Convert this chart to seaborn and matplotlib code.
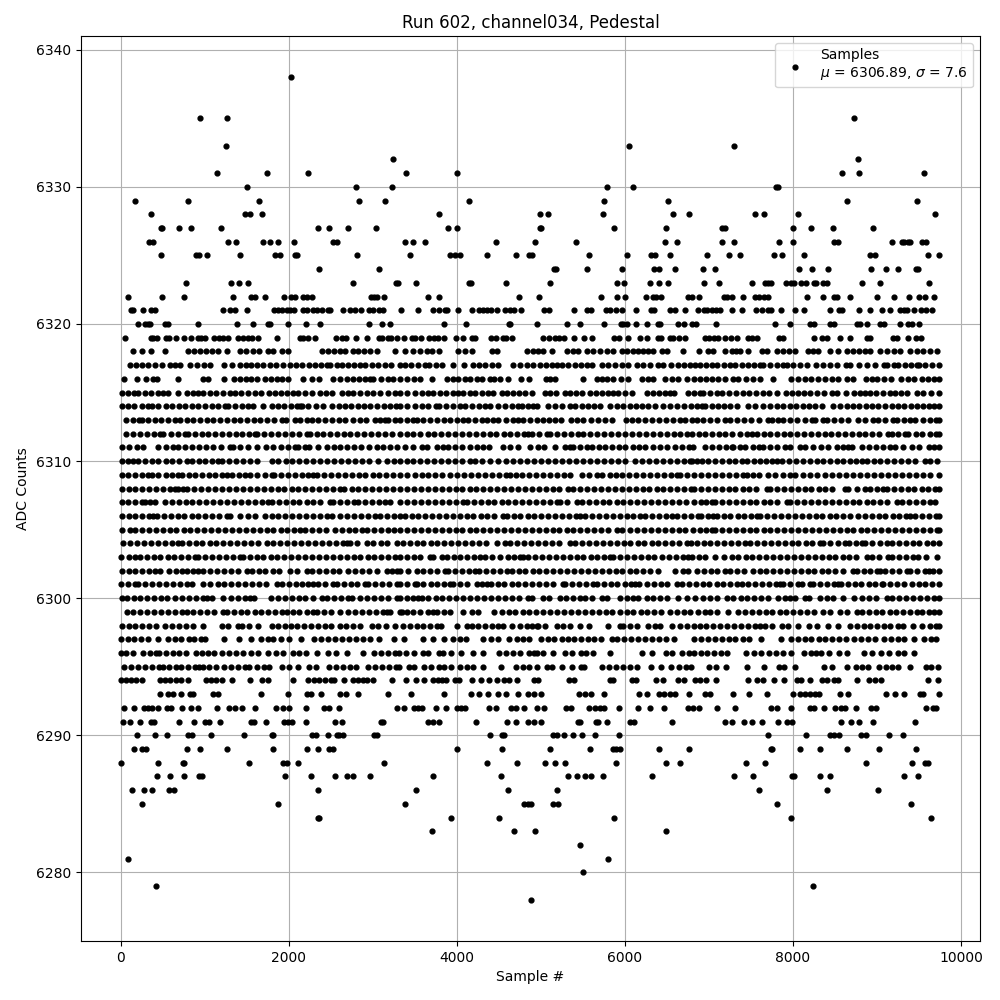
import pandas as pd
import matplotlib
matplotlib.use("Agg")
import matplotlib.pyplot as plt
import seaborn as sns

# sample numbers, one list per ADC level
s_6338 = [2020]
s_6335 = [937, 1258, 8727]
s_6333 = [1247, 6048, 7298]
s_6332 = [3235, 8775]
s_6331 = [1139, 1735, 2223, 3390, 3998, 8584, 8787, 9561]
s_6330 = [1497, 2795, 3224, 5786, 6095, 7798, 7822]
s_6329 = [163, 794, 1640, 2831, 3140, 4141, 5750, 6512, 8648, 9478]
s_6328 = [353, 1481, 1536, 1675, 3783, 4988, 5083, 5738, 6572, 6762, 7548, 7655, 8060, 9692]
s_6327 = [472, 488, 687, 830, 1187, 2342, 2473, 2700, 3033, 3890, 3998, 4988, 5003, 5869, 6488, 7155, 7190, 8000, 8214, 8477, 8954]
s_6326 = [330, 377, 1270, 1366, 1687, 1771, 1866, 2056, 2521, 2569, 3378, 3474, 3617, 4462, 4928, 5416, 6476, 6619, 7155, 7298, 7834, 8000, 8489, 8537, 9180, 9299, 9323, 9371, 9395, 9537, 9585]
s_6325 = [472, 889, 925, 1020, 1413, 1830, 1890, 2068, 2096, 2807, 3438, 3914, 3974, 4034, 4355, 4700, 4855, 4888, 5571, 6024, 6310, 6357, 6536, 6977, 7239, 7370, 7775, 7870, 8132, 8918, 8978, 9609, 9740]
s_6324 = [2354, 3069, 5154, 5178, 5547, 5968, 6345, 6405, 6595, 6929, 7072, 8072, 8227, 8418, 8930, 9108, 9251, 9466, 9482]
s_6323 = [770, 1306, 1401, 1509, 2759, 3271, 3295, 3509, 4141, 4165, 4581, 5107, 5905, 5988, 6298, 6405, 6512, 6941, 7120, 7513, 7667, 7703, 7739, 7917, 7977, 8013, 8096, 8155, 8251, 8275, 8358, 8406, 8823, 9037, 9621]
s_6322 = [79, 484, 746, 1330, 1544, 1592, 1711, 1937, 2021, 2068, 2164, 2211, 2279, 2973, 3009, 3045, 3128, 3652, 3783, 4736, 4976, 5714, 5905, 6000, 6250, 6333, 6369, 6429, 6750, 6798, 6881, 7179, 7215, 7274, 7405, 7548, 7596, 7655, 7703, 8168, 8358, 8489, 8525, 8680, 9005, 9204, 9383, 9502, 9573, 9681]
s_6321 = [115, 139, 258, 353, 401, 1211, 1294, 1354, 1497, 1818, 1866, 1914, 1973, 2009, 2056, 2164, 2211, 2283, 2330, 2390, 2461, 2485, 2640, 2723, 2783, 2854, 2950, 2997, 3069, 3116, 3331, 3533, 3712, 3783, 3855, 3879, 4010, 4176, 4260, 4307, 4355, 4403, 4474, 4570, 4629, 4677, 4760, 5035, 5095, 5393, 5547, 5595, 5774, 5821, 5893, 5964, 6131, 6310, 6345, 6536, 6595, 6715, 6869, 6941, 6977, 7037, 7084, 7132, 7274, 7393, 7560, 7632, 7703, 7739, 7858, 8025, 8132, 8442, 8549, 8584, 8787, 8918, 9061, 9156, 9275, 9323, 9358, 9442, 9525, 9585, 9657]
s_6320 = [198, 282, 318, 341, 520, 556, 913, 1378, 1568, 1747, 1771, 1985, 2199, 2366, 2950, 3105, 3200, 3843, 4105, 4617, 4633, 4952, 5309, 5464, 5750, 5952, 5976, 6024, 6131, 6262, 6393, 6417, 6631, 6703, 6798, 6846, 7084, 7787, 7965, 8203, 8251, 8442, 8489, 8763, 8799, 8882, 9037, 9085, 9275, 9370, 9418, 9502]
s_6319 = [44, 353, 377, 425, 532, 568, 651, 746, 830, 913, 949, 996, 1104, 1163, 1211, 1270, 1390, 1449, 1509, 1556, 1628, 1854, 2128, 2164, 2223, 2307, 2557, 2628, 2676, 2795, 2926, 3069, 3105, 3176, 3212, 3283, 3367, 3462, 3498, 3569, 3664, 3724, 3771, 3843, 3990, 4069, 4176, 4212, 4403, 4462, 4545, 4581, 4653, 5023, 5095, 5166, 5214, 5273, 5393, 5512, 5607, 5869, 5929, 6036, 6179, 6262, 6393, 6429, 6536, 6572, 6643, 6715, 6953, 7000, 7060, 7108, 7191, 7262, 7334, 7465, 7513, 7572, 7834, 7882, 8251, 8346, 8406, 8561, 8680, 8882, 8918, 9188, 9235, 9370, 9466, 9525]
s_6318 = [147, 246, 361, 524, 802, 871, 938, 1010, 1082, 1160, 1259, 1417, 1490, 1570, 1648, 1755, 1814, 1914, 1993, 2390, 2462, 2540, 2608, 2670, 2767, 2827, 2895, 2966, 3045, 3263, 3380, 3480, 3558, 3640, 3700, 3780, 4016, 4090, 4175, 4413, 4480, 4830, 4900, 4970, 5028, 5135, 5306, 5380, 5445, 5552, 5624, 5700, 5785, 5862, 5961, 6020, 6092, 6160, 6219, 6278, 6338, 6437, 6497, 6695, 6885, 6992, 7052, 7191, 7270, 7325, 7370, 7461, 7628, 7687, 7806, 7880, 7950, 8025, 8183, 8243, 8303, 8441, 8540, 8640, 8719, 8790, 8858, 8918, 9037, 9124, 9204, 9275, 9394, 9475, 9550, 9632, 9712]
s_6317 = [107, 175, 250, 320, 400, 484, 584, 645, 703, 822, 900, 985, 1060, 1227, 1320, 1417, 1485, 1544, 1620, 1690, 1775, 1850, 1930, 2013, 2085, 2160, 2240, 2310, 2380, 2450, 2489, 2577, 2628, 2700, 2775, 2847, 2906, 2986, 3060, 3140, 3220, 3323, 3380, 3455, 3540, 3619, 3670, 3750, 3825, 3956, 4083, 4186, 4260, 4335, 4420, 4492, 4671, 4750, 4830, 4909, 4988, 5065, 5130, 5187, 5246, 5326, 5400, 5475, 5544, 5604, 5723, 5802, 5880, 5965, 6040, 6140, 6219, 6300, 6398, 6457, 6545, 6636, 6703, 6770, 6834, 6893, 6965, 7032, 7092, 7175, 7250, 7310, 7389, 7465, 7540, 7608, 7648, 7730, 7805, 7886, 7925, 8000, 8085, 8164, 8271, 8362, 8441, 8521, 8628, 8680, 8780, 8878, 8977, 9085, 9124, 9204, 9255, 9330, 9400, 9474, 9494, 9570, 9650, 9732]
s_6316 = [40, 195, 298, 385, 433, 683, 980, 1040, 1231, 1350, 1417, 1485, 1550, 1616, 1715, 1790, 1854, 1914, 1993, 2172, 2271, 2362, 2529, 2608, 2688, 2760, 2835, 2900, 2966, 3005, 3100, 3184, 3244, 3323, 3400, 3490, 3560, 3706, 3877, 3956, 4016, 4090, 4155, 4234, 4294, 4393, 4444, 4512, 4611, 4758, 4861, 5056, 5110, 5167, 5497, 5663, 5723, 5782, 5860, 5950, 6040, 6199, 6270, 6338, 6477, 6557, 6636, 6742, 6820, 6890, 6965, 7032, 7105, 7190, 7290, 7350, 7440, 7528, 7608, 7759, 7973, 8064, 8140, 8220, 8300, 8385, 8460, 8540, 8640, 8719, 8866, 8938, 8997, 9080, 9170, 9280, 9374, 9442, 9533, 9610, 9680, 9738]
s_6315 = [8, 80, 150, 207, 286, 360, 440, 500, 564, 675, 790, 860, 921, 981, 1060, 1135, 1210, 1298, 1358, 1425, 1515, 1596, 1668, 1763, 1834, 1900, 1980, 2053, 2112, 2190, 2271, 2370, 2440, 2509, 2628, 2708, 2767, 2840, 2925, 3000, 3085, 3175, 3263, 3321, 3410, 3500, 3579, 3650, 3718, 3797, 3870, 3950, 4010, 4075, 4155, 4220, 4300, 4373, 4433, 4532, 4591, 4665, 4740, 4810, 4889, 5048, 5110, 5179, 5286, 5346, 5415, 5485, 5584, 5655, 5725, 5800, 5862, 5922, 6001, 6088, 6259, 6330, 6405, 6475, 6537, 6584, 6754, 6825, 6893, 6933, 7010, 7090, 7160, 7240, 7320, 7400, 7480, 7560, 7640, 7720, 7806, 7917, 7990, 8060, 8130, 8203, 8283, 8370, 8461, 8529, 8628, 8731, 8799, 8858, 8918, 8990, 9070, 9150, 9220, 9290, 9355, 9474, 9550, 9640, 9732]
s_6314 = [8, 85, 160, 250, 326, 365, 440, 530, 610, 690, 762, 842, 920, 1005, 1080, 1160, 1239, 1278, 1360, 1440, 1517, 1576, 1695, 1795, 1870, 1940, 2020, 2090, 2132, 2160, 2231, 2320, 2410, 2517, 2590, 2665, 2740, 2820, 2895, 2966, 3045, 3130, 3205, 3270, 3323, 3400, 3500, 3579, 3658, 3750, 3789, 3870, 3955, 4036, 4095, 4175, 4260, 4333, 4393, 4492, 4570, 4650, 4730, 4770, 4840, 4909, 4949, 5088, 5170, 5255, 5346, 5405, 5485, 5560, 5635, 5703, 5822, 5900, 5980, 6055, 6130, 6205, 6279, 6358, 6457, 6536, 6615, 6700, 6780, 6860, 6913, 6953, 7030, 7105, 7180, 7250, 7330, 7469, 7548, 7648, 7727, 7805, 7880, 7960, 8040, 8115, 8190, 8265, 8342, 8481, 8560, 8640, 8715, 8790, 8870, 8945, 9017, 9096, 9175, 9250, 9325, 9400, 9480, 9553, 9613, 9680, 9735]
s_6313 = [60, 147, 218, 246, 325, 400, 480, 565, 643, 703, 780, 860, 940, 1020, 1100, 1180, 1260, 1340, 1420, 1500, 1580, 1660, 1740, 1825, 1914, 1965, 2073, 2132, 2211, 2271, 2350, 2430, 2510, 2590, 2670, 2760, 2847, 2914, 3025, 3085, 3144, 3184, 3260, 3323, 3400, 3480, 3520, 3600, 3680, 3760, 3840, 3920, 4000, 4075, 4135, 4215, 4294, 4353, 4433, 4492, 4580, 4671, 4730, 4790, 4870, 4950, 5020, 5095, 5167, 5238, 5354, 5430, 5505, 5590, 5675, 5760, 5842, 6009, 6080, 6160, 6240, 6320, 6400, 6490, 6575, 6656, 6715, 6794, 6853, 6930, 7010, 7090, 7191, 7250, 7335, 7420, 7505, 7590, 7707, 7747, 7826, 7885, 7970, 8050, 8140, 8223, 8263, 8354, 8402, 8490, 8575, 8660, 8779, 8858, 8957, 9017, 9100, 9196, 9236, 9320, 9395, 9454, 9553, 9630, 9700, 9738]
s_6312 = [60, 147, 225, 310, 390, 465, 504, 590, 680, 762, 802, 880, 960, 1040, 1120, 1200, 1285, 1365, 1445, 1525, 1596, 1616, 1700, 1785, 1870, 1950, 2040, 2125, 2211, 2251, 2330, 2410, 2490, 2570, 2650, 2730, 2810, 2895, 2975, 3060, 3140, 3225, 3323, 3400, 3480, 3565, 3650, 3730, 3810, 3890, 3975, 4060, 4140, 4225, 4305, 4390, 4470, 4555, 4635, 4720, 4800, 4849, 4889, 4980, 5068, 5108, 5190, 5275, 5360, 5445, 5504, 5585, 5670, 5750, 5835, 5915, 6000, 6085, 6165, 6250, 6330, 6415, 6495, 6580, 6660, 6734, 6794, 6875, 6955, 7035, 7115, 7195, 7270, 7370, 7450, 7509, 7568, 7650, 7730, 7810, 7890, 7970, 8050, 8130, 8215, 8295, 8375, 8455, 8535, 8620, 8700, 8780, 8860, 8945, 9025, 9136, 9176, 9255, 9335, 9374, 9460, 9540, 9625, 9700, 9736]
s_6311 = [8, 90, 187, 266, 445, 530, 623, 683, 765, 850, 930, 1015, 1100, 1190, 1298, 1338, 1420, 1510, 1616, 1723, 1810, 1900, 1990, 2072, 2112, 2192, 2243, 2350, 2450, 2530, 2610, 2695, 2775, 2860, 2950, 3045, 3125, 3205, 3283, 3381, 3480, 3579, 3639, 3758, 3837, 3897, 3980, 4065, 4150, 4235, 4314, 4385, 4552, 4631, 4730, 4869, 4969, 5040, 5167, 5286, 5346, 5385, 5465, 5544, 5604, 5685, 5763, 5842, 5925, 6005, 6090, 6170, 6239, 6338, 6420, 6505, 6590, 6675, 6760, 6814, 6953, 7035, 7120, 7200, 7270, 7290, 7370, 7429, 7528, 7590, 7648, 7727, 7815, 7905, 7965, 8084, 8144, 8235, 8330, 8421, 8521, 8600, 8660, 8707, 8819, 8900, 8985, 9070, 9150, 9216, 9315, 9414, 9494, 9613, 9680, 9733]
s_6310 = [8, 80, 147, 207, 285, 365, 445, 530, 610, 695, 782, 842, 925, 1005, 1085, 1159, 1199, 1280, 1365, 1450, 1535, 1616, 1795, 1875, 1960, 2040, 2125, 2205, 2290, 2370, 2455, 2535, 2620, 2700, 2785, 2865, 2950, 3065, 3164, 3245, 3323, 3400, 3480, 3559, 3640, 3725, 3810, 3890, 3975, 4060, 4155, 4214, 4300, 4390, 4492, 4583, 4665, 4750, 4830, 4915, 5000, 5080, 5165, 5250, 5330, 5415, 5500, 5580, 5665, 5750, 5830, 5915, 6000, 6120, 6199, 6280, 6365, 6450, 6530, 6615, 6700, 6774, 6794, 6853, 6920, 6992, 7072, 7155, 7235, 7310, 7390, 7449, 7530, 7610, 7680, 7747, 7806, 7866, 7950, 8035, 8115, 8200, 8285, 8362, 8441, 8521, 8600, 8680, 8755, 8819, 8878, 8960, 9040, 9120, 9200, 9285, 9365, 9450, 9573, 9632, 9712]
s_6309 = [8, 87, 167, 250, 326, 365, 445, 530, 610, 683, 723, 805, 885, 965, 1045, 1125, 1205, 1259, 1318, 1400, 1477, 1537, 1620, 1710, 1795, 1822, 1905, 1985, 2070, 2150, 2230, 2291, 2330, 2415, 2500, 2580, 2665, 2745, 2830, 2910, 2995, 3075, 3160, 3240, 3323, 3410, 3495, 3580, 3658, 3738, 3820, 3917, 3996, 4080, 4165, 4250, 4330, 4415, 4500, 4580, 4631, 4703, 4770, 4855, 4940, 5020, 5105, 5190, 5270, 5346, 5485, 5575, 5663, 5723, 5822, 5894, 5961, 6045, 6130, 6210, 6295, 6380, 6460, 6545, 6616, 6656, 6740, 6825, 6905, 6990, 7070, 7155, 7240, 7320, 7400, 7449, 7520, 7600, 7707, 7790, 7880, 7965, 8025, 8124, 8203, 8290, 8375, 8460, 8545, 8625, 8710, 8795, 8875, 8960, 9045, 9125, 9210, 9295, 9375, 9460, 9545, 9630, 9732]
s_6308 = [8, 90, 170, 255, 335, 420, 500, 580, 643, 683, 743, 790, 875, 955, 1040, 1120, 1205, 1285, 1370, 1450, 1535, 1615, 1700, 1780, 1865, 1945, 2030, 2110, 2195, 2275, 2360, 2440, 2525, 2608, 2660, 2745, 2825, 2910, 2990, 3075, 3155, 3240, 3323, 3405, 3490, 3570, 3655, 3735, 3820, 3900, 3985, 4065, 4150, 4230, 4315, 4395, 4480, 4560, 4645, 4725, 4810, 4890, 4975, 5055, 5140, 5220, 5326, 5385, 5465, 5550, 5630, 5715, 5795, 5880, 5960, 6045, 6125, 6210, 6290, 6375, 6455, 6540, 6620, 6705, 6785, 6820, 6905, 6985, 7070, 7150, 7235, 7315, 7400, 7480, 7565, 7687, 7727, 7810, 7890, 7975, 8055, 8140, 8220, 8305, 8385, 8470, 8620, 8660, 8760, 8858, 8918, 9000, 9077, 9116, 9200, 9280, 9365, 9445, 9530, 9610, 9690, 9737]
s_6307 = [8, 85, 165, 246, 286, 346, 405, 524, 605, 685, 770, 850, 930, 1015, 1095, 1180, 1260, 1345, 1425, 1510, 1590, 1675, 1755, 1795, 1880, 1960, 2045, 2125, 2210, 2290, 2375, 2489, 2529, 2610, 2695, 2775, 2827, 2906, 2990, 3070, 3144, 3204, 3323, 3405, 3490, 3570, 3655, 3735, 3820, 3900, 3985, 4075, 4115, 4200, 4280, 4365, 4445, 4530, 4610, 4695, 4775, 4860, 4940, 5025, 5105, 5187, 5227, 5310, 5425, 5485, 5570, 5650, 5735, 5815, 5900, 5980, 6060, 6148, 6230, 6315, 6395, 6480, 6560, 6645, 6725, 6820, 6905, 6970, 7032, 7072, 7155, 7235, 7320, 7400, 7485, 7565, 7650, 7730, 7815, 7925, 7965, 8050, 8130, 8215, 8295, 8380, 8460, 8545, 8625, 8710, 8790, 8875, 8955, 9040, 9120, 9236, 9295, 9380, 9460, 9545, 9625, 9692]
s_6306 = [8, 90, 170, 255, 335, 385, 425, 510, 590, 675, 755, 840, 920, 1005, 1085, 1170, 1259, 1298, 1417, 1517, 1600, 1715, 1795, 1874, 1953, 2035, 2120, 2200, 2285, 2365, 2450, 2509, 2608, 2690, 2775, 2855, 2940, 3025, 3085, 3165, 3250, 3323, 3381, 3460, 3539, 3620, 3700, 3785, 3865, 3950, 4030, 4115, 4195, 4280, 4360, 4445, 4552, 4591, 4675, 4755, 4840, 4920, 5005, 5085, 5170, 5250, 5335, 5415, 5465, 5524, 5605, 5690, 5770, 5855, 5935, 6020, 6100, 6179, 6239, 6320, 6405, 6485, 6557, 6616, 6700, 6780, 6865, 6905, 6985, 7052, 7092, 7175, 7255, 7340, 7420, 7505, 7568, 7608, 7690, 7775, 7855, 7940, 8020, 8105, 8185, 8270, 8350, 8435, 8515, 8600, 8680, 8779, 8858, 8938, 9020, 9100, 9185, 9265, 9350, 9394, 9454, 9535, 9620, 9700, 9740]
s_6305 = [8, 107, 167, 250, 330, 415, 495, 580, 660, 745, 825, 910, 990, 1075, 1155, 1240, 1320, 1405, 1485, 1570, 1650, 1735, 1815, 1900, 1980, 2065, 2132, 2192, 2275, 2355, 2440, 2549, 2628, 2710, 2790, 2867, 2926, 3010, 3090, 3175, 3255, 3323, 3405, 3490, 3570, 3655, 3735, 3820, 3900, 3985, 4065, 4150, 4230, 4315, 4395, 4480, 4560, 4645, 4725, 4810, 4890, 4975, 5055, 5140, 5220, 5305, 5385, 5470, 5550, 5635, 5715, 5800, 5902, 5961, 6060, 6145, 6225, 6310, 6390, 6475, 6555, 6640, 6720, 6805, 6894, 6970, 7032, 7072, 7155, 7235, 7320, 7400, 7485, 7565, 7650, 7730, 7815, 7895, 7980, 8060, 8145, 8225, 8310, 8390, 8475, 8555, 8640, 8720, 8805, 8885, 8970, 9050, 9135, 9215, 9300, 9380, 9465, 9545, 9630, 9710, 9740]
s_6304 = [28, 110, 190, 275, 355, 440, 520, 605, 683, 723, 805, 890, 970, 1055, 1135, 1220, 1300, 1385, 1465, 1550, 1630, 1735, 1814, 1895, 1980, 2060, 2145, 2225, 2310, 2390, 2475, 2555, 2640, 2688, 2728, 2810, 2926, 3005, 3090, 3170, 3283, 3361, 3440, 3520, 3600, 3685, 3765, 3850, 3930, 4015, 4095, 4180, 4260, 4345, 4473, 4572, 4631, 4715, 4795, 4880, 4960, 5045, 5125, 5210, 5346, 5405, 5490, 5570, 5655, 5735, 5820, 5900, 5985, 6065, 6150, 6230, 6318, 6398, 6480, 6565, 6645, 6734, 6782, 6853, 6935, 7015, 7100, 7180, 7265, 7345, 7429, 7489, 7570, 7655, 7735, 7820, 7900, 7985, 8065, 8150, 8230, 8322, 8362, 8445, 8530, 8620, 8672, 8750, 8819, 8858, 8945, 9030, 9116, 9176, 9260, 9340, 9425, 9505, 9590, 9670, 9732]
s_6303 = [5, 90, 170, 226, 306, 390, 470, 555, 635, 720, 800, 885, 921, 1000, 1085, 1165, 1250, 1330, 1417, 1449, 1530, 1615, 1695, 1780, 1860, 1945, 2025, 2110, 2190, 2275, 2355, 2440, 2520, 2605, 2685, 2770, 2850, 2935, 3015, 3100, 3180, 3265, 3321, 3400, 3485, 3565, 3678, 3718, 3817, 3877, 3960, 4040, 4125, 4205, 4274, 4333, 4413, 4512, 4611, 4680, 4750, 4790, 4849, 4929, 5010, 5095, 5175, 5260, 5340, 5425, 5505, 5590, 5670, 5755, 5822, 5862, 5945, 6025, 6110, 6190, 6279, 6346, 6438, 6520, 6605, 6685, 6754, 6794, 6875, 6953, 7072, 7183, 7270, 7350, 7435, 7515, 7600, 7680, 7765, 7845, 7930, 8010, 8095, 8175, 8260, 8340, 8425, 8505, 8590, 8670, 8755, 8878, 8938, 9020, 9136, 9176, 9260, 9340, 9425, 9482, 9585, 9712]
s_6302 = [8, 90, 170, 255, 335, 405, 465, 576, 650, 723, 790, 860, 921, 981, 1065, 1145, 1230, 1310, 1395, 1497, 1556, 1640, 1720, 1805, 1885, 2013, 2092, 2219, 2271, 2355, 2435, 2520, 2600, 2708, 2787, 2870, 2950, 3045, 3164, 3224, 3283, 3321, 3420, 3520, 3599, 3680, 3765, 3857, 3897, 3980, 4060, 4145, 4214, 4266, 4350, 4430, 4515, 4591, 4651, 4735, 4815, 4900, 4980, 5065, 5145, 5230, 5310, 5395, 5475, 5560, 5640, 5725, 5805, 5890, 5970, 6055, 6135, 6220, 6299, 6398, 6596, 6687, 6754, 6853, 6935, 7020, 7100, 7191, 7250, 7335, 7420, 7528, 7608, 7679, 7760, 7845, 7925, 8010, 8090, 8175, 8255, 8340, 8420, 8505, 8600, 8711, 8759, 8840, 8920, 8997, 9037, 9096, 9180, 9260, 9355, 9394, 9480, 9573, 9613, 9672, 9732]
s_6301 = [5, 85, 167, 207, 290, 370, 455, 535, 620, 700, 785, 842, 981, 1060, 1159, 1231, 1315, 1395, 1480, 1560, 1645, 1725, 1854, 1914, 1995, 2080, 2160, 2231, 2291, 2350, 2430, 2529, 2569, 2650, 2735, 2815, 2900, 2946, 3025, 3110, 3190, 3283, 3321, 3410, 3500, 3520, 3600, 3685, 3765, 3850, 3917, 3956, 4040, 4125, 4234, 4294, 4353, 4401, 4485, 4565, 4650, 4730, 4815, 4895, 4980, 5060, 5145, 5266, 5286, 5370, 5450, 5535, 5624, 5663, 5745, 5830, 5910, 5995, 6075, 6120, 6167, 6259, 6340, 6425, 6505, 6616, 6675, 6760, 6840, 6925, 7005, 7090, 7170, 7255, 7335, 7389, 7469, 7550, 7635, 7715, 7800, 7846, 7885, 7970, 8064, 8104, 8203, 8243, 8322, 8405, 8485, 8541, 8569, 8650, 8735, 8815, 8900, 8980, 9057, 9077, 9160, 9240, 9325, 9414, 9494, 9575, 9660, 9740]
s_6300 = [8, 68, 150, 230, 315, 395, 480, 544, 643, 725, 810, 890, 975, 1020, 1088, 1219, 1306, 1398, 1480, 1537, 1584, 1783, 1865, 1950, 2030, 2115, 2195, 2280, 2390, 2450, 2535, 2615, 2700, 2748, 2847, 2930, 3015, 3095, 3180, 3283, 3321, 3400, 3480, 3539, 3579, 3660, 3745, 3825, 3910, 3990, 4075, 4155, 4240, 4320, 4405, 4485, 4570, 4650, 4735, 4849, 4889, 5020, 5100, 5227, 5294, 5380, 5465, 5524, 5605, 5723, 5790, 5941, 6020, 6100, 6160, 6259, 6338, 6420, 6505, 6636, 6734, 6834, 6933, 7015, 7100, 7211, 7290, 7375, 7455, 7540, 7620, 7705, 7826, 7905, 7965, 8025, 8144, 8195, 8322, 8400, 8481, 8600, 8727, 8819, 8900, 8985, 9116, 9176, 9260, 9345, 9434, 9514, 9595, 9680, 9732]
s_6299 = [68, 147, 230, 310, 395, 475, 560, 640, 725, 782, 861, 945, 1025, 1110, 1219, 1259, 1340, 1425, 1505, 1590, 1670, 1755, 1835, 1914, 1973, 2045, 2125, 2210, 2291, 2330, 2415, 2495, 2608, 2708, 2790, 2870, 2955, 3035, 3120, 3164, 3204, 3323, 3341, 3400, 3480, 3565, 3650, 3718, 3758, 3840, 3920, 4075, 4174, 4254, 4441, 4532, 4615, 4695, 4780, 4860, 4945, 5025, 5110, 5190, 5275, 5355, 5440, 5520, 5605, 5685, 5770, 5850, 5935, 6020, 6100, 6185, 6265, 6350, 6430, 6536, 6620, 6700, 6774, 6873, 6953, 7012, 7095, 7231, 7350, 7429, 7509, 7590, 7675, 7755, 7840, 7920, 8005, 8085, 8170, 8250, 8362, 8441, 8561, 8640, 8759, 8819, 8900, 8985, 9065, 9150, 9230, 9315, 9395, 9480, 9533, 9613, 9680, 9738]
s_6298 = [8, 90, 170, 255, 338, 417, 524, 605, 685, 774, 862, 973, 1199, 1270, 1398, 1437, 1520, 1636, 1802, 1874, 1953, 2021, 2092, 2175, 2260, 2340, 2425, 2505, 2608, 2680, 2760, 2847, 2986, 3065, 3150, 3263, 3353, 3435, 3520, 3600, 3680, 3758, 3805, 3996, 4115, 4175, 4255, 4333, 4413, 4492, 4552, 4651, 4750, 4837, 4889, 4949, 4969, 5050, 5187, 5266, 5350, 5465, 5576, 5802, 5941, 5981, 6065, 6145, 6279, 6358, 6418, 6564, 6656, 6740, 6820, 6893, 6961, 7052, 7135, 7215, 7300, 7380, 7465, 7545, 7608, 7667, 7750, 7866, 7945, 8064, 8195, 8283, 8421, 8541, 8680, 8760, 8840, 8918, 8997, 9080, 9160, 9245, 9315, 9434, 9533, 9633, 9700, 9740]
s_6297 = [0, 80, 160, 238, 318, 437, 556, 640, 720, 805, 873, 953, 1004, 1231, 1401, 1548, 1667, 1747, 1806, 1906, 2005, 2144, 2303, 2385, 2465, 2550, 2630, 2715, 2795, 2880, 2960, 3077, 3255, 3374, 3593, 3712, 3843, 3950, 4030, 4109, 4307, 4400, 4486, 4625, 4710, 4790, 4863, 4996, 5080, 5160, 5245, 5325, 5393, 5472, 5555, 5635, 5720, 5849, 5909, 5990, 6075, 6155, 6240, 6320, 6405, 6485, 6584, 6822, 6905, 6985, 7070, 7150, 7235, 7315, 7400, 7480, 7616, 7854, 7973, 8055, 8140, 8220, 8305, 8385, 8470, 8550, 8628, 8727, 8810, 8895, 8975, 9085, 9164, 9245, 9325, 9442, 9561, 9640, 9700]
s_6296 = [0, 60, 139, 258, 340, 417, 457, 540, 620, 695, 774, 893, 960, 1032, 1112, 1203, 1285, 1370, 1450, 1548, 1628, 1747, 1846, 1930, 2044, 2124, 2203, 2330, 2461, 2561, 2688, 2878, 3017, 3097, 3176, 3260, 3315, 3394, 3494, 3593, 3652, 3791, 3831, 3930, 4049, 4188, 4307, 4498, 4585, 4670, 4750, 4863, 4916, 4956, 5023, 5142, 5285, 5373, 5472, 5532, 5619, 5821, 6206, 6325, 6484, 6564, 6683, 6765, 6822, 6909, 6981, 7060, 7140, 7219, 7437, 7530, 7616, 7715, 7800, 7885, 7973, 8132, 8210, 8271, 8330, 8430, 8549, 8648, 8846, 8946, 9050, 9144, 9251, 9323, 9442]
s_6295 = [40, 120, 205, 285, 370, 450, 496, 576, 655, 715, 795, 880, 933, 973, 1052, 1135, 1231, 1310, 1395, 1475, 1528, 1616, 1707, 1767, 1917, 2000, 2104, 2243, 2322, 2481, 2565, 2645, 2730, 2799, 2938, 3020, 3105, 3185, 3270, 3315, 3434, 3494, 3613, 3695, 3780, 3851, 3930, 4030, 4115, 4195, 4308, 4526, 4704, 4785, 4863, 4956, 5075, 5135, 5254, 5373, 5472, 5512, 5730, 5815, 5895, 5980, 6060, 6147, 6306, 6425, 6544, 6643, 6725, 6782, 7000, 7085, 7199, 7457, 7655, 7834, 7894, 8025, 8370, 8469, 8648, 8747, 8827, 8894, 9025, 9105, 9184, 9251, 9394, 9581, 9641, 9728]
s_6294 = [0, 60, 119, 175, 246, 461, 520, 580, 651, 711, 794, 1008, 1068, 1127, 1199, 1318, 1532, 1675, 1747, 2044, 2223, 2295, 2354, 2425, 2497, 2533, 2652, 2759, 2819, 2878, 2926, 2997, 3224, 3390, 3509, 3605, 3712, 3771, 3819, 3867, 3974, 4022, 4176, 4283, 4379, 4474, 4558, 4617, 4712, 4916, 4964, 5333, 5393, 5821, 5857, 6083, 6131, 6369, 6453, 6631, 6703, 6834, 6893, 6965, 7084, 7465, 7572, 7644, 7775, 7894, 8048, 8096, 8203, 8346, 8406, 8489, 8537, 8763, 8906, 8978, 9049, 9609, 9728]
s_6293 = [461, 556, 616, 711, 818, 854, 1092, 1155, 1663, 1985, 2211, 2259, 2378, 2604, 2676, 2819, 3176, 3450, 3843, 4165, 4260, 4367, 4486, 4581, 4724, 4843, 4916, 5000, 5452, 5524, 5595, 5750, 6167, 6262, 6405, 6464, 6536, 6595, 6762, 6953, 7012, 7286, 7477, 7687, 8000, 8084, 8144, 8203, 8263, 8310, 8561, 8656, 9108, 9215, 9323, 9513, 9549, 9740]
s_6292 = [32, 151, 270, 318, 365, 437, 544, 592, 723, 830, 913, 1139, 1282, 1354, 1437, 1592, 1842, 1925, 1997, 2199, 2414, 2473, 2592, 3283, 3367, 3486, 3533, 3581, 3748, 3867, 3998, 4045, 4093, 4379, 4462, 4641, 4700, 4796, 4952, 5035, 5297, 5357, 5571, 5643, 5702, 5750, 5928, 6155, 6298, 6464, 6750, 6810, 6881, 7096, 7310, 7739, 7810, 7977, 8203, 8251, 8370, 8501, 8573, 8620, 8751, 8930, 8990, 9585, 9668, 9704]
s_6291 = [20, 103, 222, 353, 393, 687, 869, 996, 1044, 1175, 1544, 1580, 1723, 1937, 1985, 2033, 2199, 2545, 2628, 3093, 3117, 3652, 3712, 3791, 4224, 4593, 4700, 4843, 4916, 5000, 5440, 5464, 5654, 5678, 5786, 6060, 6107, 6560, 7191, 7274, 7417, 7513, 7632, 7822, 7929, 7989, 8573, 8692, 8787, 8953, 9454]
s_6290 = [187, 401, 544, 794, 842, 1068, 1461, 1794, 1806, 2271, 2318, 2461, 2573, 2592, 2640, 3009, 3045, 4391, 4534, 4558, 5142, 5190, 5273, 5381, 5488, 5643, 5928, 7703, 8156, 8442, 8489, 8549, 8811, 8870, 9144, 9311]
s_6289 = [151, 250, 294, 782, 937, 1258, 1806, 2219, 2342, 2473, 2521, 3998, 4534, 5107, 5583, 5857, 5893, 5940, 6405, 6762, 7739, 7751, 8084, 8322, 8644, 9025, 9466]
s_6288 = [0, 437, 734, 750, 1521, 1925, 1973, 2104, 3128, 4355, 4712, 5047, 5166, 5285, 5893, 6488, 6655, 7441, 7667, 8870, 9418, 9573, 9609]
s_6287 = [425, 580, 746, 925, 961, 1949, 2259, 2545, 2688, 2759, 2962, 3712, 4522, 5321, 5428, 5524, 5595, 5738, 6322, 7298, 7524, 7989, 8013, 8322, 8442, 9323, 9490]
s_6286 = [127, 270, 365, 568, 627, 2342, 3509, 4605, 5190, 7596, 8406, 9013]
s_6285 = [246, 1866, 3378, 4796, 4843, 4876, 5142, 5202, 7810, 9406]
s_6284 = [2342, 2360, 3926, 4498, 5869, 7977, 9644]
s_6283 = [3700, 4677, 4928, 6488]
s_6282 = [5464]
s_6281 = [79, 5798]
s_6280 = [5500]
s_6279 = [413, 8239]
s_6278 = [4880]

levels = [6338, 6335, 6333, 6332, 6331, 6330, 6329, 6328, 6327, 6326, 6325, 6324, 6323, 6322, 6321, 6320,
          6319, 6318, 6317, 6316, 6315, 6314, 6313, 6312, 6311, 6310, 6309, 6308, 6307, 6306, 6305, 6304,
          6303, 6302, 6301, 6300, 6299, 6298, 6297, 6296, 6295, 6294, 6293, 6292, 6291, 6290, 6289, 6288,
          6287, 6286, 6285, 6284, 6283, 6282, 6281, 6280, 6279, 6278]
samples = [s_6338, s_6335, s_6333, s_6332, s_6331, s_6330, s_6329, s_6328, s_6327, s_6326, s_6325, s_6324, s_6323, s_6322, s_6321, s_6320,
           s_6319, s_6318, s_6317, s_6316, s_6315, s_6314, s_6313, s_6312, s_6311, s_6310, s_6309, s_6308, s_6307, s_6306, s_6305, s_6304,
           s_6303, s_6302, s_6301, s_6300, s_6299, s_6298, s_6297, s_6296, s_6295, s_6294, s_6293, s_6292, s_6291, s_6290, s_6289, s_6288,
           s_6287, s_6286, s_6285, s_6284, s_6283, s_6282, s_6281, s_6280, s_6279, s_6278]

df = pd.concat([pd.DataFrame({"sample": xs, "adc": lvl}) for lvl, xs in zip(levels, samples)])

fig, ax = plt.subplots(figsize=(10, 10), dpi=100)
sns.scatterplot(data=df, x="sample", y="adc", color="black", marker=".", s=48, linewidth=1,
                edgecolor="black", zorder=2, label="Samples\n$\\mu$ = 6306.89, $\\sigma$ = 7.6", ax=ax)
ax.set_title("Run 602, channel034, Pedestal")
ax.set_xlabel("Sample #")
ax.set_ylabel("ADC Counts")
ax.set_xlim(-476, 10226)
ax.grid(True)
ax.legend(loc="upper right")

fig.subplots_adjust(left=0.081, right=0.98, top=0.964, bottom=0.059)
plt.savefig("out.png")
